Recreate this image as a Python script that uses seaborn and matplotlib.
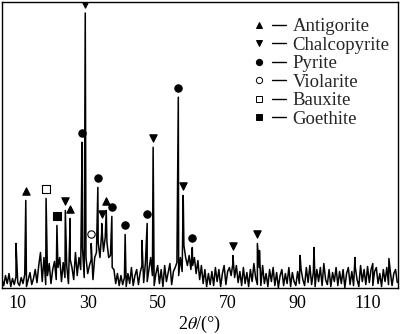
import numpy as np
import pandas as pd
import seaborn as sns
import matplotlib.pyplot as plt
from matplotlib.lines import Line2D
from matplotlib.legend_handler import HandlerTuple

# Background counts, sampled every 0.5 deg from 5.5 to 118.5 deg 2-theta
bg_start, bg_step = 5.5, 0.5
background = [
    8, 2, 12, 4, 14, 1, 9, 3, 11, 5,
    2, 10, 4, 13, 1, 8, 15, 3, 9, 18,
    5, 22, 35, 6, 30, 3, 12, 24, 4, 18,
    26, 8, 20, 30, 6, 25, 10, 22, 4, 28,
    20, 8, 35, 12, 30, 18, 40, 10, 30, 14,
    22, 28, 8, 30, 35, 45, 30, 55, 36, 50,
    45, 30, 32, 20, 18, 4, 14, 2, 12, 3,
    10, 1, 14, 4, 20, 2, 12, 18, 3, 15,
    22, 5, 25, 6, 18, 30, 12, 2, 14, 22,
    4, 18, 1, 22, 6, 15, 24, 3, 16, 20,
    25, 12, 30, 16, 42, 30, 22, 32, 18, 22,
    30, 14, 27, 8, 22, 4, 18, 1, 14, 3,
    16, 2, 20, 6, 18, 1, 14, 22, 3, 16,
    20, 12, 24, 10, 22, 5, 16, 2, 20, 4,
    15, 1, 18, 6, 24, 10, 3, 20, 2, 22,
    4, 14, 1, 18, 6, 20, 2, 15, 0, 12,
    18, 2, 14, 4, 20, 1, 15, 6, 2, 16,
    4, 18, 8, 2, 20, 5, 22, 3, 15, 1,
    18, 6, 20, 2, 24, 8, 3, 18, 1, 15,
    6, 20, 2, 16, 4, 18, 0, 14, 20, 3,
    16, 2, 20, 8, 1, 22, 6, 18, 3, 21,
    5, 18, 2, 16, 20, 4, 14, 1, 18, 6,
    20, 3, 16, 2, 14, 18, 5,
]

# Diffraction peaks: position (deg), intensity, assigned phase
peak_pos = [9.5, 12.3, 18.1, 21.2, 23.6, 25.0, 28.4, 29.3, 31.0, 32.9,
            34.0, 35.3, 36.9, 40.7, 45.5, 47.0, 48.7, 55.9, 57.3, 59.9,
            71.5, 78.5, 79.1, 90.7, 94.7, 106.4, 111.5, 116.1]
peak_int = [44, 87, 89, 62, 77, 69, 145, 274, 44, 100,
            64, 77, 71, 53, 47, 64, 140, 190, 92, 40,
            32, 44, 37, 32, 40, 30, 24, 29]
peak_phase = [None, "Antigorite", "Bauxite", "Goethite", "Chalcopyrite",
              "Antigorite", "Pyrite", "Chalcopyrite", "Violarite", "Pyrite",
              "Chalcopyrite", "Antigorite", "Pyrite", "Pyrite", None,
              "Pyrite", "Chalcopyrite", "Pyrite", "Chalcopyrite", "Pyrite",
              "Chalcopyrite", "Chalcopyrite", None, None, None, None, None, None]

phases = ["Antigorite", "Chalcopyrite", "Pyrite", "Violarite", "Bauxite", "Goethite"]
phase_marker = {"Antigorite": "^", "Chalcopyrite": "v", "Pyrite": "o",
                "Violarite": "o", "Bauxite": "s", "Goethite": "s"}
phase_face = {"Antigorite": "black", "Chalcopyrite": "black", "Pyrite": "black",
              "Violarite": "white", "Bauxite": "white", "Goethite": "black"}

bg_theta = bg_start + bg_step * np.arange(len(background))
pattern = pd.DataFrame({
    "two_theta": np.concatenate([bg_theta, peak_pos]),
    "intensity": np.concatenate([background, peak_int]),
}).sort_values("two_theta")

peaks = pd.DataFrame({"two_theta": peak_pos, "intensity": peak_int,
                      "phase": peak_phase}).dropna()
peaks["mark_y"] = peaks["intensity"] + 9

sns.set_theme(style="white")
plt.rcParams["font.family"] = ["Liberation Serif", "DejaVu Serif"]
plt.rcParams["mathtext.fontset"] = "stix"

fig = plt.figure(figsize=(4.0, 3.34), dpi=100)
ax = fig.add_axes([0.005, 0.139, 0.99, 0.855])

sns.lineplot(data=pattern, x="two_theta", y="intensity", ax=ax,
             color="black", lw=1.1, sort=False, estimator=None)

for ph in phases:
    sub = peaks[peaks["phase"] == ph]
    sns.scatterplot(data=sub, x="two_theta", y="mark_y", ax=ax,
                    marker=phase_marker[ph], s=28, color=phase_face[ph],
                    edgecolor="black", linewidth=0.8, zorder=5)

ax.set_xlim(5.5, 118.7)
ax.set_ylim(0, 285)
ax.set_xticks([10, 30, 50, 70, 90, 110])
ax.set_yticks([])
ax.tick_params(axis="x", length=0, pad=5, labelsize=13, colors="black")
ax.set_xlabel(r"2$\theta$/(°)", fontsize=13, labelpad=2, color="black")
ax.set_ylabel("")
for sp in ax.spines.values():
    sp.set_visible(True)
    sp.set_color("black")
    sp.set_linewidth(1.0)

# Legend entries: symbol, then a short dash, then the phase name
handles = [(Line2D([], [], linestyle="none", marker=phase_marker[ph],
                   markerfacecolor=phase_face[ph], markeredgecolor="black",
                   markeredgewidth=0.7, markersize=4.5),
            Line2D([], [], color="black", lw=1.0))
           for ph in phases]
ax.legend(handles, phases, loc="upper left", bbox_to_anchor=(0.631, 0.943),
          frameon=False, fontsize=13.5, handlelength=1.8, handletextpad=0.37,
          labelspacing=0.07, borderpad=0, borderaxespad=0,
          handler_map={tuple: HandlerTuple(ndivide=None, pad=0.3)})

fig.savefig("out.png", dpi=100)
